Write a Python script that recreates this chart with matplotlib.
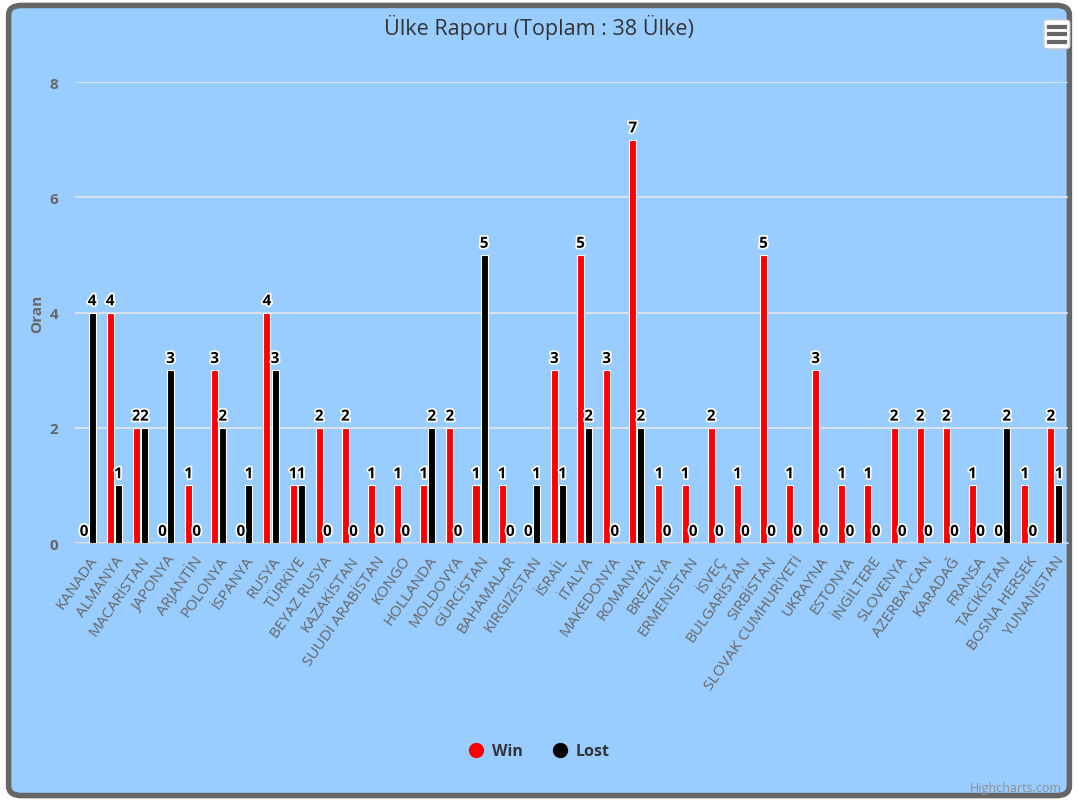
import matplotlib.pyplot as plt
import matplotlib.patheffects as pe
import numpy as np
from matplotlib.lines import Line2D
from matplotlib.patches import FancyBboxPatch

plt.rcParams["font.family"] = ["Open Sans", "DejaVu Sans"]

countries = [
    "KANADA", "ALMANYA", "MACARİSTAN", "JAPONYA", "ARJANTİN", "POLONYA",
    "İSPANYA", "RUSYA", "TÜRKİYE", "BEYAZ RUSYA", "KAZAKİSTAN",
    "SUUDİ ARABİSTAN", "KONGO", "HOLLANDA", "MOLDOVYA", "GÜRCİSTAN",
    "BAHAMALAR", "KIRGIZİSTAN", "İSRAİL", "İTALYA", "MAKEDONYA", "ROMANYA",
    "BREZİLYA", "ERMENİSTAN", "İSVEÇ", "BULGARİSTAN", "SIRBİSTAN",
    "SLOVAK CUMHURİYETİ", "UKRAYNA", "ESTONYA", "İNGİLTERE", "SLOVENYA",
    "AZERBAYCAN", "KARADAĞ", "FRANSA", "TACİKİSTAN", "BOSNA HERSEK",
    "YUNANİSTAN",
]
win = [0, 4, 2, 0, 1, 3, 0, 4, 1, 2, 2, 1, 1, 1, 2, 1, 1, 0, 3, 5, 3, 7,
       1, 1, 2, 1, 5, 1, 3, 1, 1, 2, 2, 2, 1, 0, 1, 2]
lost = [4, 1, 2, 3, 0, 2, 1, 3, 1, 0, 0, 0, 0, 2, 0, 5, 0, 1, 1, 2, 0, 2,
        0, 0, 0, 0, 0, 0, 0, 0, 0, 0, 0, 0, 0, 2, 0, 1]
y_ticks = [0, 2, 4, 6, 8]

BG = "#99ccff"
fig = plt.figure(figsize=(10.78, 8.03), dpi=100)
fig.patch.set_facecolor("white")
frame = FancyBboxPatch((0.008, 0.008), 0.984, 0.984,
                       boxstyle="round,pad=0,rounding_size=0.012",
                       transform=fig.transFigure, facecolor=BG,
                       edgecolor="#666666", linewidth=4, zorder=-5)
fig.patches.append(frame)

ax = fig.add_axes([0.0696, 0.3225, 0.9211, 0.5741], zorder=2)
ax.set_facecolor("none")

x = np.arange(len(countries))
bw = 0.27
off = 0.155
ax.bar(x - off, win, bw, color="#ff0000", edgecolor="white", linewidth=0.8,
       zorder=3)
ax.bar(x + off, lost, bw, color="#000000", edgecolor="white", linewidth=0.8,
       zorder=3)

stroke = [pe.withStroke(linewidth=2.5, foreground="white")]
for xs, vals in ((x - off, win), (x + off, lost)):
    for xi, v in zip(xs, vals):
        ax.annotate(str(v), (xi, v), xytext=(0, 3), textcoords="offset points",
                    ha="center", va="bottom", fontsize=11, fontweight="bold",
                    color="black", path_effects=stroke, zorder=5)

ax.set_xlim(-0.5, len(countries) - 0.5)
ax.set_ylim(0, 8)
ax.set_yticks(y_ticks)
ax.yaxis.grid(True, color="#e6e6e6", linewidth=1.2, zorder=0)
ax.set_axisbelow(True)
for s in ("top", "right", "left"):
    ax.spines[s].set_visible(False)
ax.spines["bottom"].set_color("#c0d0e0")
ax.tick_params(axis="y", length=0, pad=12, labelcolor="#666666", labelsize=11)
ax.tick_params(axis="x", length=0, pad=7, labelcolor="#666666")
for lab in ax.get_yticklabels():
    lab.set_fontweight("bold")
ax.set_xticks(x)
ax.set_xticklabels(countries, rotation=55, ha="right", rotation_mode="anchor",
                   fontsize=11)
ax.set_ylabel("Oran", color="#666666", fontsize=11, fontweight="bold",
              labelpad=4)

fig.text(0.5, 0.966, "Ülke Raporu (Toplam : 38 Ülke)", ha="center",
         va="center", fontsize=15.5, color="#333333")

handles = [
    Line2D([], [], linestyle="none", marker="o", markersize=11,
           markerfacecolor="#ff0000", markeredgecolor="none", label="Win"),
    Line2D([], [], linestyle="none", marker="o", markersize=11,
           markerfacecolor="#000000", markeredgecolor="none", label="Lost"),
]
leg = ax.legend(handles=handles, loc="center", ncol=2, frameon=False,
                handlelength=1.0, handletextpad=0.5, columnspacing=1.8,
                prop={"weight": "bold", "size": 11.5})
leg.set_bbox_to_anchor((0.5, 0.063), transform=fig.transFigure)
for t in leg.get_texts():
    t.set_color("#333333")

# export menu button
btn = FancyBboxPatch((0.9685, 0.938), 0.024, 0.036,
                     boxstyle="round,pad=0,rounding_size=0.004",
                     transform=fig.transFigure, facecolor="white",
                     edgecolor="#cccccc", linewidth=0.8)
fig.patches.append(btn)
for yy in (0.947, 0.956, 0.965):
    fig.add_artist(plt.Line2D([0.9735, 0.9875], [yy, yy], color="#666666",
                              linewidth=3, transform=fig.transFigure))

fig.text(0.985, 0.018, "Highcharts.com", ha="right", va="center",
         fontsize=9, color="#909090")

fig.savefig("out.png", dpi=100, facecolor=fig.get_facecolor())
